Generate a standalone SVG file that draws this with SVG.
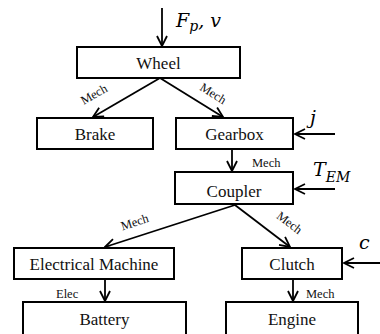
<svg xmlns="http://www.w3.org/2000/svg" width="380" height="334" viewBox="0 0 380 334">
<style>
.box{fill:#fff;stroke:#000;stroke-width:2}
.c{fill:none;stroke:#000;stroke-width:1.8}
</style>
<defs>
<marker id="ah" viewBox="0 0 12 12" refX="11" refY="6" markerWidth="12" markerHeight="12" markerUnits="userSpaceOnUse" orient="auto">
<path d="M1,1 L11,6 L1,11" fill="none" stroke="#000" stroke-width="1.8"/>
</marker>
</defs>
<rect width="380" height="334" fill="#fff"/>
<g id="connectors">
<line class="c" x1="162" y1="8" x2="162" y2="46" marker-end="url(#ah)"/>
<line class="c" x1="160" y1="78" x2="93" y2="117" marker-end="url(#ah)"/>
<line class="c" x1="160" y1="78" x2="223" y2="117" marker-end="url(#ah)"/>
<line class="c" x1="335" y1="134" x2="295" y2="134" marker-end="url(#ah)"/>
<line class="c" x1="232" y1="149" x2="232" y2="171" marker-end="url(#ah)"/>
<line class="c" x1="335" y1="189" x2="295" y2="189" marker-end="url(#ah)"/>
<line class="c" x1="235" y1="205" x2="105" y2="247" marker-end="url(#ah)"/>
<line class="c" x1="235" y1="205" x2="290" y2="247" marker-end="url(#ah)"/>
<line class="c" x1="381" y1="263" x2="344" y2="263" marker-end="url(#ah)"/>
<line class="c" x1="105" y1="279" x2="105" y2="301" marker-end="url(#ah)"/>
<line class="c" x1="293" y1="279" x2="293" y2="301" marker-end="url(#ah)"/>
</g>
<g id="connector-labels" fill="#111">
<text font-family="Times New Roman" font-size="12.5" transform="translate(96,98) rotate(-30)" text-anchor="middle">Mech</text>
<text font-family="Times New Roman" font-size="12.5" transform="translate(211,97) rotate(32)" text-anchor="middle">Mech</text>
<text font-family="Times New Roman" font-size="12.5" x="252" y="167">Mech</text>
<text font-family="Times New Roman" font-size="12.5" transform="translate(136,226) rotate(-18)" text-anchor="middle">Mech</text>
<text font-family="Times New Roman" font-size="12.5" transform="translate(287,226) rotate(37)" text-anchor="middle">Mech</text>
<text font-family="Times New Roman" font-size="12.5" x="56" y="298">Elec</text>
<text font-family="Times New Roman" font-size="12.5" x="306" y="298">Mech</text>
</g>
<g id="inputs" fill="#000">
<text font-family="DejaVu Serif" font-style="italic" font-size="19" x="176" y="27">F<tspan font-size="14" dy="4">p</tspan><tspan dy="-4">, v</tspan></text>
<text font-family="DejaVu Serif" font-style="italic" font-size="19" x="310" y="124">j</text>
<text font-family="DejaVu Serif" font-style="italic" font-size="19" x="313" y="176">T<tspan font-size="14" dy="6">EM</tspan></text>
<text font-family="DejaVu Serif" font-style="italic" font-size="19" x="359" y="249">c</text>
</g>
<g id="wheel"><rect class="box" x="77" y="47" width="163" height="31"/><text font-family="Times New Roman" font-size="17" text-anchor="middle" fill="#111" x="158.5" y="69">Wheel</text></g>
<g id="brake"><rect class="box" x="37" y="118" width="116" height="31"/><text font-family="Times New Roman" font-size="17" text-anchor="middle" fill="#111" x="95" y="140">Brake</text></g>
<g id="gearbox"><rect class="box" x="176" y="118" width="117" height="31"/><text font-family="Times New Roman" font-size="17" text-anchor="middle" fill="#111" x="234.5" y="140">Gearbox</text></g>
<g id="coupler"><rect class="box" x="175" y="172" width="118" height="32"/><text font-family="Times New Roman" font-size="17" text-anchor="middle" fill="#111" x="234" y="197">Coupler</text></g>
<g id="electrical-machine"><rect class="box" x="14" y="248" width="160" height="31"/><text font-family="Times New Roman" font-size="17" text-anchor="middle" fill="#111" x="94" y="270">Electrical Machine</text></g>
<g id="clutch"><rect class="box" x="242" y="248" width="100" height="31"/><text font-family="Times New Roman" font-size="17" text-anchor="middle" fill="#111" x="292" y="270">Clutch</text></g>
<g id="battery"><rect class="box" x="23" y="302" width="163" height="40"/><text font-family="Times New Roman" font-size="17" text-anchor="middle" fill="#111" x="104.5" y="325">Battery</text></g>
<g id="engine"><rect class="box" x="226" y="302" width="132" height="40"/><text font-family="Times New Roman" font-size="17" text-anchor="middle" fill="#111" x="292" y="325">Engine</text></g>
</svg>
